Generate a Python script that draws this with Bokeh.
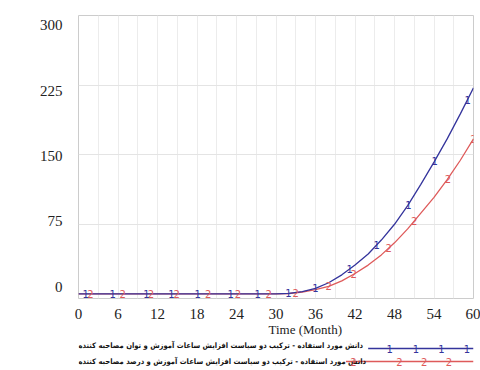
from bokeh.plotting import figure
from bokeh.models import Range1d, LinearAxis, FixedTicker
from bokeh.layouts import column
from bokeh.core.properties import value
from bokeh.embed import file_html
from bokeh.resources import INLINE
import numpy as np

# Simulation output, sampled every 2 months
months = list(range(0, 61, 2))
knowledge_capacity = [0] * 16 + [0.6, 2.5, 6, 12, 20.5, 31, 43, 58, 75, 95, 118, 142, 167, 194, 222]
knowledge_percent = [0] * 16 + [0.4, 2, 4.5, 8, 14, 22, 31, 42, 55, 70, 87, 104, 123, 144, 167]

# Where the run numbers are stamped on each curve
marks_capacity = [1.1, 5.2, 10.3, 14.1, 18.1, 23.1, 27.2, 31.9, 36.0, 41.2, 45.3, 50.1, 54.1, 59.1]
marks_percent = [1.8, 6.7, 11.0, 14.9, 19.7, 24.2, 28.9, 33.0, 38.0, 41.8, 47.1, 51.0, 56.1, 60.0]

x_ticks = list(range(0, 61, 6))
y_ticks = [0, 75, 150, 225, 300]
x_title = "Time (Month)"

legend_labels = [
    "دانش مورد استفاده - ترکیب دو سیاست افزایش ساعات آموزش و توان مصاحبه کننده",
    "دانش مورد استفاده - ترکیب دو سیاست افزایش ساعات آموزش و درصد مصاحبه کننده",
]

BLUE = "#34349c"
RED = "#de5a5a"
SERIF = "Liberation Serif"
INK = "#222222"

p = figure(width=480, height=321, x_range=Range1d(0, 60), y_range=Range1d(-5, 300),
           output_backend="svg", toolbar_location=None,
           min_border_left=78, min_border_right=7, min_border_top=15, min_border_bottom=22)
p.background_fill_color = "white"
p.border_fill_color = "white"
p.outline_line_color = "#cccccc"

# value labels sit on a slightly compressed scale, as in the simulator's graphs
p.yaxis.visible = False
p.extra_y_ranges = {"lab": Range1d(-13.74, 311.45)}
yax = LinearAxis(y_range_name="lab", ticker=FixedTicker(ticks=y_ticks))
yax.axis_line_color = None
yax.major_tick_line_color = None
yax.minor_tick_line_color = None
yax.major_label_standoff = 10
yax.major_label_text_font = SERIF
yax.major_label_text_font_size = "15px"
yax.major_label_text_color = INK
p.add_layout(yax, "left")

xax = p.xaxis[0]
xax.ticker = FixedTicker(ticks=x_ticks)
xax.axis_line_color = None
xax.major_tick_line_color = None
xax.minor_tick_line_color = None
xax.major_label_standoff = 4
xax.major_label_text_font = SERIF
xax.major_label_text_font_size = "15px"
xax.major_label_text_color = INK

p.xgrid.ticker = FixedTicker(ticks=list(range(0, 61, 3)))
p.xgrid.grid_line_color = "#ececec"
p.ygrid.ticker = FixedTicker(ticks=[75, 150, 225])
p.ygrid.grid_line_color = "#e4e4e4"

p.line(months, knowledge_percent, line_color=RED, line_width=1.3)
p.line(months, knowledge_capacity, line_color=BLUE, line_width=1.3)

for marks, series, label, color in [
    (marks_percent, knowledge_percent, "2", RED),
    (marks_capacity, knowledge_capacity, "1", BLUE),
]:
    ys = np.interp(marks, months, series)
    p.text(x=marks, y=list(ys), text=[label] * len(marks), text_color=color,
           text_align="center", text_baseline="middle",
           text_font=value("DejaVu Sans"), text_font_size="10px")

# Strip under the graph: axis title, then one legend row per run
leg = figure(width=480, height=49, x_range=Range1d(0, 480), y_range=Range1d(49, 0),
             output_backend="svg", toolbar_location=None,
             x_axis_location=None, y_axis_location=None, min_border=0)
leg.outline_line_color = None
leg.background_fill_color = "white"
leg.border_fill_color = "white"
leg.grid.visible = False

leg.text(x=[275.5], y=[8], text=[x_title], text_align="center", text_baseline="middle",
         text_font=value(SERIF), text_font_size="13px", text_color=INK)

rows = [
    (legend_labels[0], BLUE, "1", 352, 27, 24, [378, 410, 441, 472]),
    (legend_labels[1], RED, "2", 325, 40, 40, [334, 390, 420, 450]),
]
for text, color, stamp, line_start, line_y, text_y, stamps in rows:
    leg.line(x=[line_start, 480], y=[line_y, line_y], line_color=color, line_width=1.3)
    leg.text(x=[0], y=[text_y], text=[text], text_align="left", text_baseline="alphabetic",
             text_font=value("DejaVu Sans Condensed"), text_font_size="7.6px",
             text_font_style="bold", text_color="#111111")
    leg.text(x=stamps, y=[line_y] * len(stamps), text=[stamp] * len(stamps), text_color=color,
             text_align="center", text_baseline="middle",
             text_font=value("DejaVu Sans"), text_font_size="10px")

layout = column(p, leg, spacing=0)
open("out.html", "w").write(file_html(layout, INLINE))
